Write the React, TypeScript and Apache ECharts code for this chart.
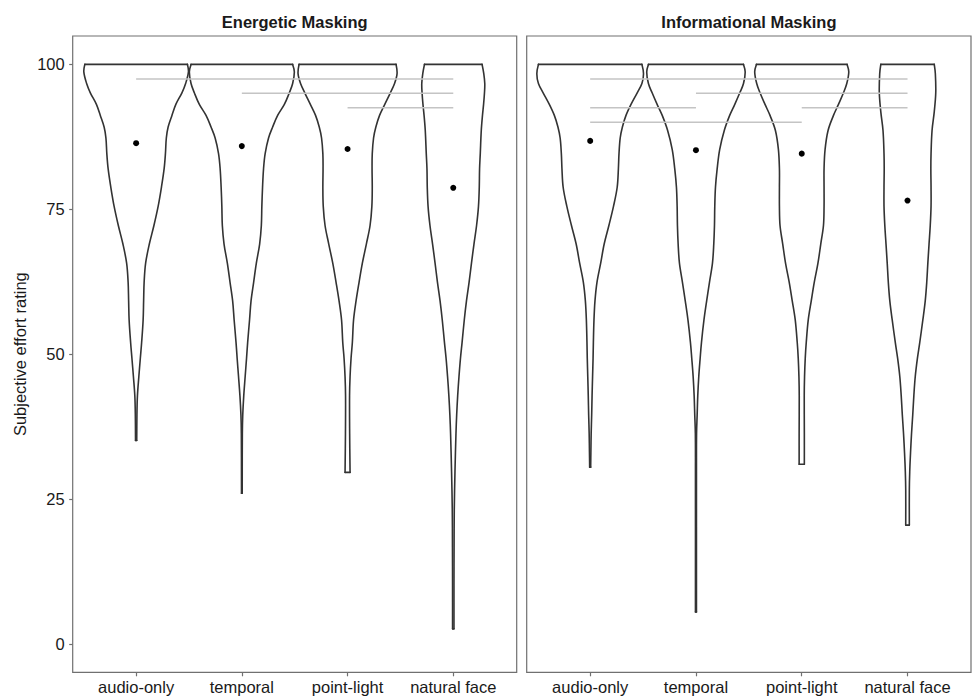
import React, { useEffect, useRef } from "react";
import * as echarts from "echarts";

const FONT = "'Liberation Sans', Arial, Helvetica, sans-serif";

const CATEGORIES = ["audio-only", "temporal", "point-light", "natural face"];
const PANEL_TITLES = ["Energetic Masking", "Informational Masking"];
const Y_TICKS = [0, 25, 50, 75, 100];
const X_TICKS = [1, 2, 3, 4];

// Means (black dots)
const MEANS_EM = [86.4, 85.9, 85.4, 78.7];
const MEANS_IM = [86.8, 85.2, 84.6, 76.5];

// Significance brackets: [from category, to category, y]
const BRACKETS_EM = [
  [1, 4, 97.5],
  [2, 4, 95],
  [3, 4, 92.5],
];
const BRACKETS_IM = [
  [1, 4, 97.5],
  [2, 4, 95],
  [1, 2, 92.5],
  [3, 4, 92.5],
  [1, 3, 90],
];

// Violin density profiles: [rating, relative half-width]
const EM_AUDIO_ONLY = [
  [100, 51.3], [98.7, 52.3], [96.7, 49.5], [95.1, 45.8], [93.1, 39.7], [91.2, 35.8],
  [89.2, 32], [87.3, 30.2], [84.6, 29.3], [82.0, 28], [78.8, 25.3], [75.5, 22],
  [72.2, 17.8], [69.0, 13.2], [65.7, 9.5], [62.4, 8], [59.2, 7.5], [55.9, 7],
  [52.0, 5.5], [49.3, 4.2], [46.1, 2.7], [42.8, 1.3], [39.5, 0.8], [35.1, 0.6],
];
const EM_TEMPORAL = [
  [100, 50.8], [98.7, 52.5], [96.7, 50.8], [95.1, 47.5], [93.1, 42.5], [91.2, 35.8],
  [89.2, 30.8], [87.3, 26.7], [84.6, 23.3], [82.0, 21.7], [78.8, 20.7], [75.5, 20],
  [72.2, 19.5], [69.0, 17.8], [65.7, 14.5], [62.4, 11.8], [59.2, 9.2], [55.9, 7.7],
  [52.0, 5.8], [49.3, 4.7], [46.1, 3.3], [42.8, 1.9], [39.5, 0.9], [36.3, 0.5], [26.0, 0.35],
];
const EM_POINT_LIGHT = [
  [100, 48.5], [98.4, 49.5], [96.7, 47], [95.1, 42.8], [93.1, 37.2], [91.2, 32],
  [89.2, 28.3], [87.3, 26], [84.6, 24.7], [82.0, 24.5], [78.8, 24.7], [75.5, 24.3],
  [72.2, 22.5], [69.0, 18.8], [65.7, 14.8], [62.4, 11.5], [59.2, 8.5], [55.9, 6],
  [52.0, 4.8], [49.3, 3.5], [46.1, 2.5], [42.8, 2], [36.3, 2.1], [29.6, 2.5],
];
const EM_NATURAL_FACE = [
  [100, 28.8], [98.4, 30.5], [96.7, 31.5], [95.1, 31.2], [93.1, 30.3], [91.2, 29.2],
  [88.6, 28], [84.6, 27], [82.0, 26.3], [78.8, 26], [75.5, 25.2], [72.2, 23.3],
  [69.0, 20.7], [65.7, 18.2], [62.4, 15.8], [59.2, 13.2], [55.9, 11], [52.0, 8.8],
  [49.3, 7.2], [46.1, 5.7], [42.8, 4.4], [39.5, 3.4], [36.3, 2.7], [29.7, 1.7],
  [23.2, 1], [16.7, 0.8], [10.1, 0.7], [2.6, 0.7],
];
const IM_AUDIO_ONLY = [
  [100, 51.7], [98.4, 53.3], [96.7, 51.7], [95.1, 47], [93.1, 40.8], [91.2, 35.8],
  [89.2, 32.2], [87.3, 30], [84.6, 28.8], [82.0, 28.2], [78.8, 27], [75.5, 23.3],
  [72.2, 18.7], [69.0, 14], [65.7, 10.5], [62.4, 6.8], [59.2, 4.8], [55.9, 3.8],
  [52.0, 3.2], [49.3, 2.9], [46.1, 2.4], [42.8, 1.9], [39.5, 1.5], [36.3, 1.0],
  [33.0, 0.7], [30.5, 0.5],
];
const IM_TEMPORAL = [
  [100, 47.5], [98.7, 49.2], [96.7, 47.5], [95.1, 43.8], [93.1, 38.8], [91.2, 33.7],
  [88.6, 28.3], [85.3, 23.7], [82.0, 21.2], [78.8, 19.5], [75.5, 18.8], [72.2, 18.5],
  [69.0, 17.8], [65.7, 16.5], [62.4, 13.5], [59.2, 10.7], [55.9, 8], [52.0, 5.5],
  [49.3, 4.2], [46.1, 2.8], [42.8, 1.8], [39.5, 1.2], [36.3, 0.6], [29.7, 0.5], [5.5, 0.5],
];
const IM_POINT_LIGHT = [
  [100, 45.3], [98.7, 47], [96.7, 45], [95.1, 41.7], [93.1, 36.7], [91.2, 31.7],
  [88.6, 26.3], [85.3, 23.3], [82.0, 22.3], [78.8, 22.3], [75.5, 22.3], [72.2, 21.7],
  [69.0, 19], [65.7, 16.2], [62.4, 12.5], [59.2, 9.5], [55.9, 6.5], [52.0, 4.5],
  [49.3, 3.5], [46.1, 2.8], [42.8, 2.5], [36.3, 2.6], [31.0, 2.6],
];
const IM_NATURAL_FACE = [
  [100, 26.7], [98.4, 27.8], [95.1, 28.2], [91.8, 26.7], [88.6, 24.5], [84.6, 23.5],
  [82.0, 23.3], [78.8, 23.5], [75.5, 23.5], [72.2, 22.7], [69.0, 21.5], [65.7, 20.3],
  [62.4, 19.2], [59.2, 17.7], [55.9, 15.3], [52.0, 12.2], [49.3, 9.9], [46.1, 7.7],
  [42.8, 6.3], [39.5, 5.2], [36.3, 4.0], [33.0, 3.0], [29.7, 2.2], [26.5, 1.8], [20.5, 1.8],
];

const VIOLINS_EM = [EM_AUDIO_ONLY, EM_TEMPORAL, EM_POINT_LIGHT, EM_NATURAL_FACE];
const VIOLINS_IM = [IM_AUDIO_ONLY, IM_TEMPORAL, IM_POINT_LIGHT, IM_NATURAL_FACE];

// density units -> category units
const DENSITY_SCALE = 1 / 105.7;

const TEXT = "#1a1a1a";
const FRAME = "#707070";

function violinRenderer(profiles: number[][][]) {
  return (params: any, api: any) => {
    const idx = api.value(0);
    const prof = profiles[idx];
    const cx = idx + 1;
    const right = prof.map(([v, w]) => api.coord([cx + w * DENSITY_SCALE, v]));
    const left = prof.map(([v, w]) => api.coord([cx - w * DENSITY_SCALE, v]));
    const n = prof.length - 1;
    const style = { stroke: "#333333", lineWidth: 1.6, fill: null, lineJoin: "round", lineCap: "round" };
    return {
      type: "group",
      children: [
        { type: "polyline", shape: { points: right, smooth: 0.35 }, style },
        { type: "polyline", shape: { points: left, smooth: 0.35 }, style },
        {
          type: "line",
          shape: { x1: left[0][0], y1: left[0][1], x2: right[0][0], y2: right[0][1] },
          style,
        },
        {
          type: "line",
          shape: { x1: left[n][0], y1: left[n][1], x2: right[n][0], y2: right[n][1] },
          style,
        },
      ],
    };
  };
}

export default function App() {
  const ref = useRef<HTMLDivElement>(null);

  useEffect(() => {
    if (!ref.current) return;
    const chart = echarts.init(ref.current, null, { renderer: "svg" });

    const grids = [
      { left: 72.7, top: 36, width: 444, height: 636.3 },
      { left: 526.7, top: 36, width: 444.3, height: 636.3 },
    ].map((g) => ({
      ...g,
      show: true,
      borderColor: FRAME,
      borderWidth: 1.2,
      backgroundColor: "transparent",
      containLabel: false,
    }));

    const xAxes = [0, 1].map((i) => ({
      gridIndex: i,
      type: "value",
      position: "bottom",
      min: 0.4,
      max: 4.6,
      splitLine: { show: false },
      axisLine: { show: false, onZero: false },
      axisTick: {
        show: true,
        customValues: X_TICKS,
        length: 4,
        lineStyle: { color: FRAME, width: 1.2 },
      },
      axisLabel: {
        show: true,
        customValues: X_TICKS,
        formatter: (v: number) => CATEGORIES[Math.round(v) - 1],
        fontFamily: FONT,
        fontSize: 16.5,
        color: TEXT,
        margin: 6,
      },
    }));

    const yAxes = [0, 1].map((i) => ({
      gridIndex: i,
      type: "value",
      position: "left",
      min: -4.9,
      max: 104.9,
      splitLine: { show: false },
      axisLine: { show: false, onZero: false },
      axisTick: {
        show: i === 0,
        customValues: Y_TICKS,
        length: 3.5,
        lineStyle: { color: FRAME, width: 1.2 },
      },
      axisLabel: {
        show: i === 0,
        customValues: Y_TICKS,
        fontFamily: FONT,
        fontSize: 16.5,
        color: TEXT,
        margin: 8,
      },
      name: i === 0 ? "Subjective effort rating" : "",
      nameLocation: "middle",
      nameGap: 44,
      nameTextStyle: { fontFamily: FONT, fontSize: 16.5, color: TEXT },
    }));

    const series: any[] = [];
    [VIOLINS_EM, VIOLINS_IM].forEach((profiles, p) => {
      series.push({
        type: "custom",
        xAxisIndex: p,
        yAxisIndex: p,
        renderItem: violinRenderer(profiles),
        data: profiles.map((_, i) => [i]),
        encode: { x: 0 },
        silent: true,
        z: 2,
      });
    });
    [BRACKETS_EM, BRACKETS_IM].forEach((brackets, p) => {
      brackets.forEach(([a, b, y]) => {
        series.push({
          type: "line",
          xAxisIndex: p,
          yAxisIndex: p,
          data: [
            [a, y],
            [b, y],
          ],
          showSymbol: false,
          symbol: "none",
          lineStyle: { color: "#c4c4c4", width: 1.5 },
          silent: true,
          z: 3,
        });
      });
    });
    [MEANS_EM, MEANS_IM].forEach((means, p) => {
      series.push({
        type: "scatter",
        xAxisIndex: p,
        yAxisIndex: p,
        data: means.map((m, i) => [i + 1, m]),
        symbol: "circle",
        symbolSize: 6,
        itemStyle: { color: "#000000", opacity: 1 },
        silent: true,
        z: 4,
      });
    });

    chart.setOption({
      animation: false,
      backgroundColor: "#ffffff",
      grid: grids,
      xAxis: xAxes,
      yAxis: yAxes,
      series,
      graphic: PANEL_TITLES.map((t, i) => ({
        type: "text",
        x: i === 0 ? 294.7 : 748.9,
        y: 21.5,
        style: {
          text: t,
          textAlign: "center",
          textVerticalAlign: "middle",
          fontFamily: FONT,
          fontSize: 16.5,
          fontWeight: "bold",
          fill: TEXT,
        },
      })),
    });

    return () => chart.dispose();
  }, []);

  return (
    <div
      ref={ref}
      style={{ position: "fixed", left: 0, top: 0, width: 972, height: 696, background: "#fff" }}
    />
  );
}
